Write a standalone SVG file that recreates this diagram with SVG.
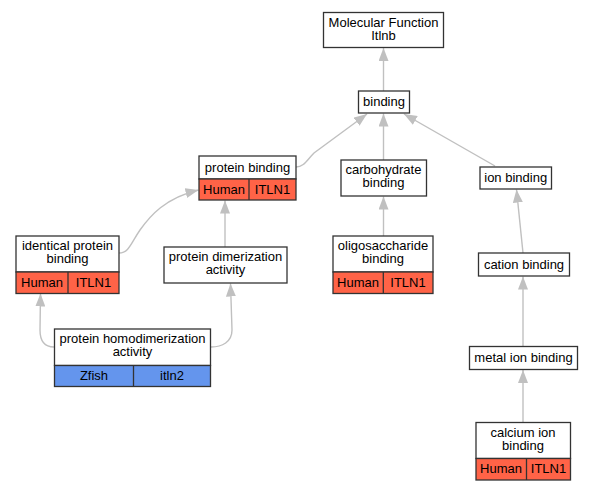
<svg xmlns="http://www.w3.org/2000/svg" width="593" height="491" viewBox="0 0 593 491">
<style>
.box{fill:#fff;stroke:#333;stroke-width:1.3}
.hum{fill:#ff6347;stroke:#333;stroke-width:1.3}
.zf{fill:#6495ed;stroke:#333;stroke-width:1.3}
.div{stroke:#333;stroke-width:1.3}
text{font-family:"Liberation Sans",Arial,sans-serif;font-size:13px;text-anchor:middle;fill:#000}
.edge{fill:none;stroke:#c0c0c0;stroke-width:1.4}
</style>
<defs>
<marker id="arr" viewBox="0 0 13 10" refX="13" refY="5" markerWidth="13" markerHeight="10" markerUnits="userSpaceOnUse" orient="auto">
<path d="M0,0 L13,5 L0,10 z" fill="#c0c0c0"/>
</marker>
</defs>
<g id="edges">
<path class="edge" marker-end="url(#arr)" d="M383.5,91 L383.5,48"/>
<path class="edge" marker-end="url(#arr)" d="M383.5,160 L383.5,113.5"/>
<path class="edge" marker-end="url(#arr)" d="M495,166 L404,114"/>
<path class="edge" marker-end="url(#arr)" d="M296,167 C304,167 307,160 314,153 L367,114"/>
<path class="edge" marker-end="url(#arr)" d="M383.5,236 L383.5,196.5"/>
<path class="edge" marker-end="url(#arr)" d="M523,253 L516.5,189.5"/>
<path class="edge" marker-end="url(#arr)" d="M523,346 L523,276.5"/>
<path class="edge" marker-end="url(#arr)" d="M523,422 L523,370"/>
<path class="edge" marker-end="url(#arr)" d="M119,253 C129,253 131,243 140,230 C150,216 165,198 198.5,190"/>
<path class="edge" marker-end="url(#arr)" d="M225,247 L225,200.5"/>
<path class="edge" marker-end="url(#arr)" d="M54,347 C44,347 40,340 40,330 L40.5,293.5"/>
<path class="edge" marker-end="url(#arr)" d="M211,347 C222,347 232,342 232,330 L230.5,283.5"/>
</g>
<g id="mf">
<rect class="box" x="323.5" y="12.5" width="120" height="35"/>
<text x="383.5" y="26.5">Molecular Function</text>
<text x="383.5" y="39.5">Itlnb</text>
</g>
<g id="binding">
<rect class="box" x="358.5" y="91" width="51" height="22"/>
<text x="384" y="106">binding</text>
</g>
<g id="carbohydrate">
<rect class="box" x="341" y="160" width="85.5" height="36"/>
<text x="383.5" y="174">carbohydrate</text>
<text x="383.5" y="187">binding</text>
</g>
<g id="ion">
<rect class="box" x="480" y="167" width="71.5" height="22"/>
<text x="515.7" y="182">ion binding</text>
</g>
<g id="oligo">
<rect class="box" x="333" y="236" width="100" height="36"/>
<rect class="hum" x="333" y="272" width="100" height="21.5"/>
<line class="div" x1="383.3" y1="272" x2="383.3" y2="293.5"/>
<text x="383" y="250">oligosaccharide</text>
<text x="383" y="263">binding</text>
<text x="358" y="286.5">Human</text>
<text x="408" y="286.5">ITLN1</text>
</g>
<g id="cation">
<rect class="box" x="478.5" y="253" width="91" height="23"/>
<text x="524" y="269">cation binding</text>
</g>
<g id="metal">
<rect class="box" x="469.5" y="346.5" width="108" height="23"/>
<text x="523.5" y="362">metal ion binding</text>
</g>
<g id="calcium">
<rect class="box" x="476" y="422.5" width="94.5" height="36"/>
<rect class="hum" x="476" y="458.5" width="94.5" height="21.5"/>
<line class="div" x1="526.5" y1="458.5" x2="526.5" y2="480"/>
<text x="523" y="437">calcium ion</text>
<text x="523" y="450">binding</text>
<text x="501" y="473">Human</text>
<text x="548.5" y="473">ITLN1</text>
</g>
<g id="proteinbinding">
<rect class="box" x="199" y="156" width="97" height="23"/>
<rect class="hum" x="199" y="179" width="97" height="21"/>
<line class="div" x1="249" y1="179" x2="249" y2="200"/>
<text x="247.5" y="171.5">protein binding</text>
<text x="224" y="193.5">Human</text>
<text x="272.5" y="193.5">ITLN1</text>
</g>
<g id="identical">
<rect class="box" x="16" y="236" width="103" height="36"/>
<rect class="hum" x="16" y="272" width="103" height="21.5"/>
<line class="div" x1="68" y1="272" x2="68" y2="293.5"/>
<text x="67.5" y="250">identical protein</text>
<text x="67.5" y="263">binding</text>
<text x="42" y="286.5">Human</text>
<text x="93.5" y="286.5">ITLN1</text>
</g>
<g id="dimerization">
<rect class="box" x="164" y="247" width="123" height="36"/>
<text x="225.5" y="261">protein dimerization</text>
<text x="225.5" y="274">activity</text>
</g>
<g id="homodimerization">
<rect class="box" x="54.5" y="329" width="156" height="36.5"/>
<rect class="zf" x="54.5" y="365.5" width="156" height="21"/>
<line class="div" x1="133.5" y1="365.5" x2="133.5" y2="386.5"/>
<text x="132.5" y="343">protein homodimerization</text>
<text x="132.5" y="356">activity</text>
<text x="94" y="379.5">Zfish</text>
<text x="172" y="379.5">itln2</text>
</g>
</svg>
